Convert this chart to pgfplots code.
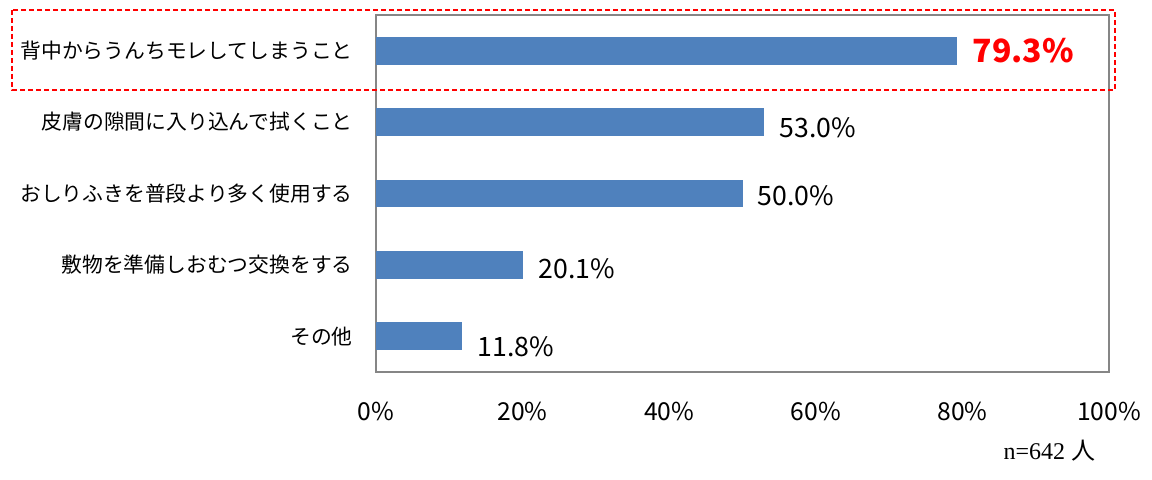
\documentclass[border=0pt]{standalone}
\usepackage{pgfplots}
\pgfplotsset{compat=1.18}
\usepackage{fontspec}
\setmainfont{Noto Sans CJK JP}
\newfontfamily\lserif{Liberation Serif}
\definecolor{barblue}{HTML}{4F81BD}
\definecolor{axgray}{HTML}{868686}
\begin{document}
\begin{tikzpicture}
\path (0pt,0pt) rectangle (864pt,359.25pt);
\begin{axis}[
 at={(282pt,80.25pt)}, anchor=south west,
 scale only axis, width=549.75pt, height=267.75pt,
 xmin=0, xmax=100, ymin=-0.5, ymax=4.5,
 xbar, bar width=0.39, bar shift=0pt,
 xtick={0,20,...,100},
 xticklabel={\pgfmathprintnumber{\tick}\%},
 ytick={0,...,4},
 yticklabels={その他, 敷物を準備しおむつ交換をする, おしりふきを普段より多く使用する, 皮膚の隙間に入り込んで拭くこと, 背中からうんちモレしてしまうこと},
 major tick length=0pt,
 axis line style={axgray, line width=1.2pt},
 xticklabel style={font=\fontsize{18.5}{20}\selectfont, yshift=-19pt},
 yticklabel style={font=\fontsize{15.6}{18}\selectfont, xshift=-14pt},
 /pgf/number format/assume math mode=true,
 point meta=x,
 nodes near coords={\pgfmathprintnumber[fixed,fixed zerofill,precision=1]{\pgfplotspointmeta}\%},
 nodes near coords style={font=\fontsize{20}{22}\selectfont, xshift=8pt, text=black},
]
\addplot[fill=barblue, draw=none, nodes near coords style={font=\bfseries\fontsize{24}{26}\selectfont, text=red, xshift=0pt}] coordinates {(79.3,4)};
\addplot[fill=barblue, draw=none, nodes near coords style={yshift=-4pt}] coordinates {(53.0,3)};
\addplot[fill=barblue, draw=none, nodes near coords style={yshift=-2pt}] coordinates {(50.0,2)};
\addplot[fill=barblue, draw=none, nodes near coords style={yshift=-3pt}] coordinates {(20.1,1)};
\addplot[fill=barblue, draw=none, nodes near coords style={yshift=-8pt}] coordinates {(11.8,0)};
\end{axis}
\draw[red, line width=1.4pt, dash pattern=on 3.75pt off 2.25pt] (9pt,351.75pt) rectangle (836.25pt,291.75pt);
\node[font=\fontsize{18}{20}\selectfont] at (787pt,21pt) {\lserif n=642\ \rmfamily 人};
\end{tikzpicture}
\end{document}
